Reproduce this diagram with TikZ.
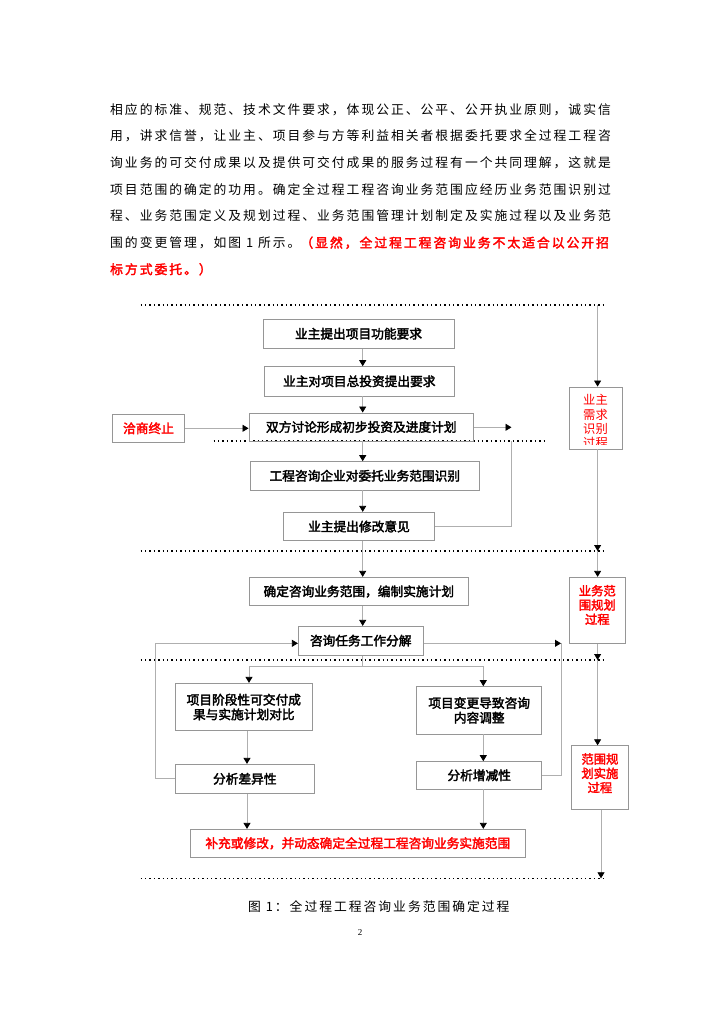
\documentclass[tikz,border=0pt]{standalone}
\usepackage{fontspec}
\setmainfont[AutoFakeBold=2.5]{Noto Sans CJK SC}
\newfontfamily\bodyfont[LetterSpace=15.5,AutoFakeBold=2.5]{Noto Sans CJK SC}
\newfontfamily\numfont{Liberation Serif}
\usetikzlibrary{arrows.meta}
\definecolor{linegray}{RGB}{175,175,175}
\definecolor{boxgray}{RGB}{150,150,150}

\begin{document}
\begin{tikzpicture}[x=1pt, y=-1pt,
	box/.style={draw=boxgray, line width=0.9pt, inner sep=0pt, align=center, font=\fontsize{12.7}{14.7}\selectfont\bfseries},
	sidebox/.style={draw=boxgray, line width=0.9pt, inner sep=0pt},
	sidetext/.style={text=red, inner sep=0pt, align=center, font=\fontsize{12.3}{14.3}\selectfont\bfseries},
	bodyline/.style={anchor=west, inner sep=0pt, font=\bodyfont\fontsize{12.8}{14}\selectfont},
	conn/.style={draw=linegray, line width=0.8pt},
	flow/.style={conn, -{Triangle[color=black, length=6pt, width=7pt]}},
	divider/.style={line width=1.3pt, dash pattern=on 1.3pt off 3.1pt}]
	% Seite
	\fill[white] (0,0) rectangle (724,1024);
	\useasboundingbox (0,0) rectangle (724,1024);
	% Fliesstext
	\foreach \txt [count=\i] in {相应的标准、规范、技术文件要求，体现公正、公平、公开执业原则，诚实信,
			用，讲求信誉，让业主、项目参与方等利益相关者根据委托要求全过程工程咨,
			询业务的可交付成果以及提供可交付成果的服务过程有一个共同理解，这就是,
			项目范围的确定的功用。确定全过程工程咨询业务范围应经历业务范围识别过,
			程、业务范围定义及规划过程、业务范围管理计划制定及实施过程以及业务范}
		\node[bodyline] (line\i) at (110,{82.63+26.67*\i}) {\txt};
	\node[bodyline] (line6) at (110,242.7) {围的变更管理，如图 1 所示。\textcolor{red}{\bfseries（显然，全过程工程咨询业务不太适合以公开招}};
	\node[bodyline, text=red] (line7) at (110,269.3) {\bfseries 标方式委托。）};
	% Trennlinien
	\foreach \y in {305,551,660,878.3} \draw[divider] (140.6,\y) -- (604.5,\y);
	\draw[divider] (213.6,441) -- (546,441);
	% Kaesten
	\node[box, minimum width=191, minimum height=29.3] (fnreq) at (358.5,333.7) {业主提出项目功能要求};
	\node[box, minimum width=190, minimum height=29.3] (invreq) at (359.3,381.3) {业主对项目总投资提出要求};
	\node[box, minimum width=224.6, minimum height=28] (plan) at (361.3,427) {双方讨论形成初步投资及进度计划};
	\node[box, text=red, minimum width=71.7, minimum height=28.7] (stop) at (148.5,428.3) {洽商终止};
	\node[box, minimum width=228.6, minimum height=28.3] (ident) at (364.8,475.8) {工程咨询企业对委托业务范围识别};
	\node[box, minimum width=151.5, minimum height=28.4] (modify) at (359,526.5) {业主提出修改意见};
	\node[box, minimum width=218.7, minimum height=28.4] (scope) at (358.8,591.5) {确定咨询业务范围，编制实施计划};
	\node[box, minimum width=124.7, minimum height=28.7] (wbs) at (360.7,640.7) {咨询任务工作分解};
	\node[box, minimum width=137.5, minimum height=47.4] (compare) at (243.8,707) {项目阶段性可交付成\\果与实施计划对比};
	\node[box, minimum width=124.7, minimum height=47.3] (change) at (479.2,710.3) {项目变更导致咨询\\内容调整};
	\node[box, minimum width=139.5, minimum height=29] (diff) at (244.8,778.8) {分析差异性};
	\node[box, minimum width=124.7, minimum height=27.3] (incdec) at (479.2,775.3) {分析增减性};
	\node[box, text=red, minimum width=335, minimum height=28] (final) at (357.8,843.3) {补充或修改，并动态确定全过程工程咨询业务实施范围};
	% Prozesse rechts
	\node[sidebox, minimum width=53, minimum height=62] (side1) at (595.5,418) {};
	\begin{scope}
		\clip (side1.north west) rectangle ([yshift=4.5pt]side1.south east);
		\node[sidetext, font=\fontsize{12.3}{14.3}\selectfont] (side1txt) at (595.5,421.5) {业主\\需求\\识别\\过程};
	\end{scope}
	\node[sidebox, minimum width=55.7, minimum height=66] (side2) at (597.3,610.3) {};
	\node[sidetext] (side2txt) at (597.3,605) {业务范\\围规划\\过程};
	\node[sidebox, minimum width=56.1, minimum height=63.3] (side3) at (599.9,777.4) {};
	\node[sidetext] (side3txt) at (599.9,773.3) {范围规\\划实施\\过程};
	% Bildunterschrift
	\node[bodyline] (caption) at (248,906.7) {图 1：全过程工程咨询业务范围确定过程};
	\node[inner sep=0pt, font=\numfont\fontsize{9}{10}\selectfont] (pagenum) at (360,932.7) {2};
	% Hilfspunkte
	\coordinate (col) at (362.7,0);
	\coordinate (lcol) at (247,0);
	\coordinate (rcol) at (483.3,0);
	\coordinate (br) at (362.7,666.7);
	\coordinate (brl) at (249,666.7);
	\coordinate (brr) at (483.3,666.7);
	\coordinate (fbl) at (155.1,643.3);
	\coordinate (fbr) at (561,643.3);
	\coordinate (fbt) at (511.5,441);
	\coordinate (fbtip) at (511.5,427.3);
	\coordinate (r1) at (597.6,305);
	\coordinate (r2) at (597.6,551);
	\coordinate (r3) at (597.6,660);
	\coordinate (r4) at (601,878.3);
	% Verbindungen Mitte
	\foreach \a/\b in {fnreq/invreq, invreq/plan, plan/ident, ident/modify, modify/scope, scope/wbs}
		\draw[flow] (\a.south -| col) -- (\b.north -| col);
	\draw[conn] (wbs.south -| col) -- (br);
	\draw[flow] (br) -- (brl) -- (brl |- compare.north);
	\draw[flow] (br) -- (brr) -- (brr |- change.north);
	\draw[flow] (compare.south -| lcol) -- (diff.north -| lcol);
	\draw[flow] (diff.south -| lcol) -- (final.north -| lcol);
	\draw[flow] (change.south -| rcol) -- (incdec.north -| rcol);
	\draw[flow] (incdec.south -| rcol) -- (final.north -| rcol);
	\draw[flow] (stop.east) -- (stop.east -| plan.west);
	% Rueckkopplungen
	\draw[flow] (plan.east |- fbtip) -- (fbtip);
	\draw[conn] (modify.east) -| (fbt);
	\draw[flow] (diff.west) -| (fbl) -- (fbl -| wbs.west);
	\draw[flow] (wbs.east |- fbr) -- (fbr);
	\draw[conn] (incdec.east) -| (fbr);
	% Spalte rechts
	\draw[flow] (r1) -- (r1 |- side1.north);
	\draw[flow] (side1.south -| r1) -- (r2);
	\draw[flow] (r2) -- (r2 |- side2.north);
	\draw[flow] (side2.south -| r2) -- (r3);
	\draw[flow] (r3) -- (r3 |- side3.north);
	\draw[flow] (side3.south -| r4) -- (r4);
\end{tikzpicture}
\end{document}
